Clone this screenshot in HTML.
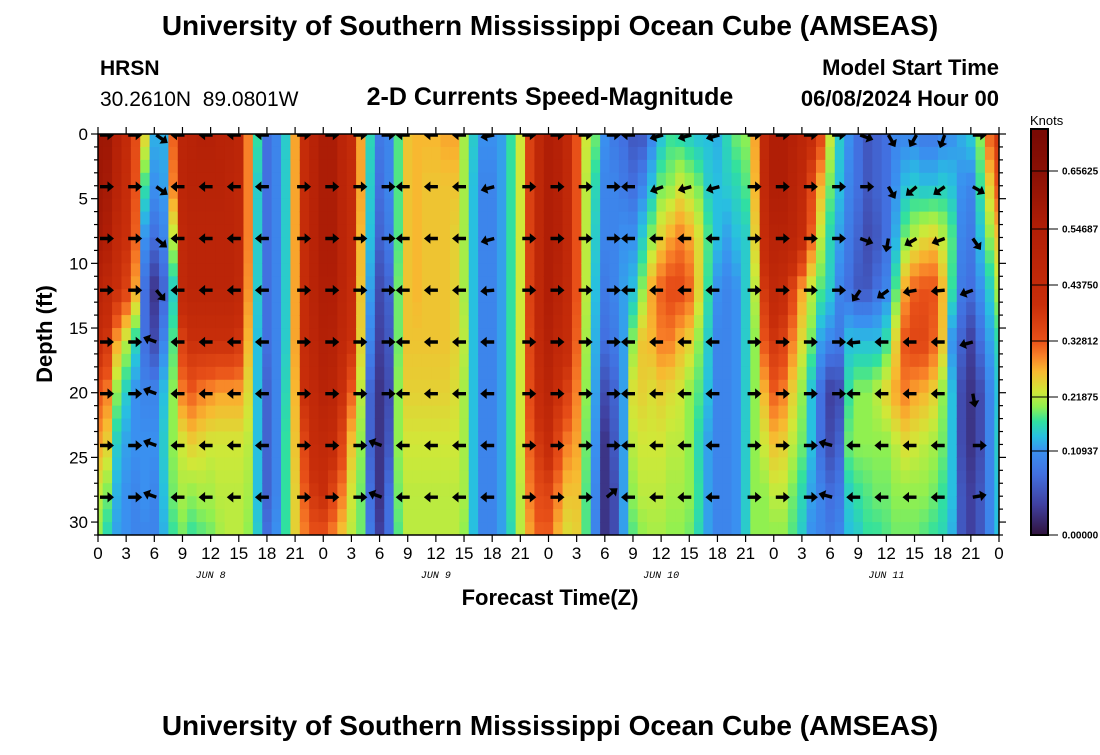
<!DOCTYPE html>
<html><head><meta charset="utf-8"><style>
body{margin:0;background:#fff;}
svg text{font-family:"Liberation Sans",sans-serif;}
</style></head><body>
<svg id="chart" width="1100" height="750" xmlns="http://www.w3.org/2000/svg">
<rect width="1100" height="750" fill="#fff"/>
<text x="550" y="35" text-anchor="middle" font-size="28" font-weight="bold">University of Southern Mississippi Ocean Cube (AMSEAS)</text>
<text x="100" y="75" font-size="21" font-weight="bold">HRSN</text>
<text x="100" y="106" font-size="21" style="white-space:pre" xml:space="preserve">30.2610N  89.0801W</text>
<text x="550" y="105" text-anchor="middle" font-size="25" font-weight="bold">2-D Currents Speed-Magnitude</text>
<text x="999" y="75" text-anchor="end" font-size="22" font-weight="bold">Model Start Time</text>
<text x="999" y="106" text-anchor="end" font-size="22" font-weight="bold">06/08/2024 Hour 00</text>
<defs><clipPath id="pc"><rect x="98" y="134" width="901" height="401"/></clipPath></defs>
<g id="heat" clip-path="url(#pc)"></g>
<g id="arrows" clip-path="url(#pc)"></g>
<g id="axes"></g>
<text transform="translate(52,334) rotate(-90)" text-anchor="middle" font-size="22" font-weight="bold">Depth (ft)</text>
<text x="550" y="605" text-anchor="middle" font-size="22" font-weight="bold">Forecast Time(Z)</text>
<text x="1030" y="125" font-size="13">Knots</text>
<g id="cbar"></g>
<text x="550" y="735" text-anchor="middle" font-size="28" font-weight="bold">University of Southern Mississippi Ocean Cube (AMSEAS)</text>
</svg>
<script>
const depths = [0,4,8,12,16,20,24,28,31];
const speedByHour = [
[0.60,0.60,0.58,0.50,0.42,0.33,0.28,0.22,0.20],
[0.60,0.58,0.55,0.45,0.38,0.30,0.25,0.19,0.16],
[0.52,0.50,0.45,0.40,0.28,0.20,0.15,0.13,0.12],
[0.44,0.42,0.40,0.36,0.22,0.15,0.12,0.11,0.11],
[0.34,0.33,0.32,0.28,0.16,0.11,0.11,0.10,0.10],
[0.25,0.17,0.11,0.08,0.08,0.10,0.11,0.11,0.10],
[0.13,0.11,0.08,0.03,0.05,0.10,0.11,0.10,0.10],
[0.13,0.12,0.10,0.07,0.10,0.14,0.15,0.14,0.13],
[0.32,0.30,0.22,0.15,0.18,0.20,0.20,0.19,0.17],
[0.48,0.48,0.45,0.45,0.36,0.30,0.23,0.21,0.19],
[0.50,0.50,0.48,0.48,0.40,0.32,0.25,0.20,0.17],
[0.52,0.50,0.48,0.48,0.40,0.30,0.24,0.21,0.18],
[0.52,0.50,0.48,0.48,0.40,0.29,0.23,0.21,0.19],
[0.50,0.50,0.48,0.48,0.40,0.28,0.23,0.22,0.21],
[0.50,0.48,0.48,0.48,0.40,0.28,0.23,0.22,0.22],
[0.48,0.46,0.46,0.45,0.38,0.28,0.23,0.22,0.22],
[0.30,0.30,0.30,0.29,0.27,0.24,0.22,0.21,0.20],
[0.17,0.15,0.15,0.15,0.14,0.14,0.14,0.14,0.15],
[0.08,0.08,0.08,0.08,0.08,0.07,0.07,0.07,0.08],
[0.10,0.10,0.10,0.10,0.10,0.10,0.10,0.10,0.11],
[0.15,0.15,0.15,0.15,0.15,0.16,0.17,0.17,0.17],
[0.28,0.28,0.28,0.28,0.28,0.27,0.26,0.25,0.25],
[0.42,0.42,0.42,0.42,0.42,0.40,0.35,0.32,0.30],
[0.50,0.50,0.50,0.50,0.48,0.45,0.42,0.38,0.33],
[0.56,0.56,0.56,0.55,0.53,0.50,0.44,0.40,0.33],
[0.56,0.56,0.56,0.55,0.52,0.48,0.42,0.35,0.30],
[0.48,0.48,0.48,0.48,0.45,0.40,0.35,0.30,0.26],
[0.43,0.43,0.43,0.42,0.40,0.32,0.26,0.23,0.22],
[0.28,0.28,0.27,0.26,0.25,0.22,0.20,0.19,0.19],
[0.16,0.15,0.14,0.12,0.10,0.07,0.07,0.08,0.09],
[0.09,0.08,0.07,0.05,0.04,0.03,0.03,0.03,0.04],
[0.10,0.10,0.09,0.07,0.06,0.05,0.06,0.08,0.08],
[0.18,0.18,0.18,0.19,0.19,0.20,0.20,0.19,0.18],
[0.26,0.26,0.26,0.26,0.26,0.25,0.23,0.22,0.22],
[0.27,0.27,0.27,0.27,0.26,0.25,0.23,0.22,0.22],
[0.27,0.26,0.26,0.26,0.26,0.25,0.23,0.22,0.22],
[0.27,0.26,0.26,0.26,0.26,0.25,0.23,0.22,0.22],
[0.28,0.26,0.26,0.26,0.26,0.25,0.23,0.22,0.22],
[0.28,0.26,0.25,0.25,0.25,0.24,0.23,0.22,0.22],
[0.21,0.21,0.21,0.21,0.22,0.21,0.21,0.21,0.20],
[0.15,0.14,0.14,0.14,0.14,0.14,0.14,0.14,0.14],
[0.11,0.10,0.10,0.10,0.10,0.10,0.10,0.10,0.10],
[0.11,0.10,0.10,0.10,0.10,0.10,0.10,0.10,0.10],
[0.12,0.12,0.12,0.12,0.12,0.12,0.12,0.12,0.12],
[0.17,0.17,0.17,0.17,0.17,0.17,0.17,0.17,0.16],
[0.23,0.23,0.23,0.23,0.23,0.23,0.23,0.22,0.22],
[0.36,0.36,0.36,0.36,0.35,0.34,0.32,0.30,0.28],
[0.46,0.46,0.46,0.46,0.45,0.42,0.38,0.34,0.32],
[0.55,0.55,0.55,0.55,0.52,0.48,0.42,0.35,0.32],
[0.52,0.52,0.52,0.50,0.46,0.40,0.35,0.30,0.27],
[0.45,0.45,0.45,0.44,0.42,0.36,0.30,0.26,0.24],
[0.33,0.33,0.33,0.33,0.32,0.30,0.28,0.26,0.25],
[0.23,0.22,0.22,0.22,0.21,0.20,0.19,0.18,0.18],
[0.19,0.16,0.15,0.14,0.13,0.12,0.11,0.10,0.10],
[0.11,0.10,0.10,0.09,0.08,0.05,0.03,0.03,0.03],
[0.09,0.10,0.10,0.10,0.09,0.07,0.06,0.05,0.05],
[0.08,0.09,0.11,0.12,0.12,0.12,0.12,0.12,0.12],
[0.06,0.08,0.11,0.14,0.20,0.24,0.22,0.20,0.18],
[0.06,0.10,0.15,0.20,0.26,0.25,0.23,0.22,0.20],
[0.10,0.14,0.20,0.28,0.27,0.24,0.23,0.22,0.21],
[0.14,0.19,0.25,0.32,0.30,0.25,0.23,0.22,0.21],
[0.17,0.20,0.28,0.34,0.30,0.24,0.22,0.21,0.20],
[0.16,0.23,0.30,0.34,0.27,0.23,0.22,0.21,0.20],
[0.15,0.21,0.28,0.32,0.25,0.20,0.20,0.20,0.19],
[0.14,0.19,0.24,0.25,0.20,0.18,0.16,0.17,0.16],
[0.14,0.15,0.18,0.17,0.15,0.14,0.12,0.12,0.12],
[0.13,0.14,0.14,0.11,0.10,0.10,0.10,0.10,0.10],
[0.16,0.15,0.12,0.10,0.10,0.10,0.10,0.10,0.10],
[0.19,0.16,0.14,0.11,0.11,0.11,0.11,0.11,0.11],
[0.20,0.18,0.15,0.15,0.15,0.15,0.15,0.15,0.15],
[0.28,0.27,0.25,0.22,0.20,0.20,0.20,0.20,0.20],
[0.45,0.45,0.42,0.38,0.33,0.27,0.23,0.20,0.20],
[0.55,0.55,0.50,0.45,0.38,0.32,0.26,0.22,0.20],
[0.55,0.55,0.50,0.42,0.36,0.30,0.25,0.22,0.20],
[0.52,0.50,0.48,0.35,0.30,0.25,0.22,0.19,0.18],
[0.48,0.45,0.42,0.28,0.24,0.20,0.19,0.16,0.15],
[0.42,0.35,0.32,0.22,0.19,0.14,0.14,0.12,0.11],
[0.35,0.27,0.22,0.18,0.12,0.08,0.08,0.10,0.10],
[0.23,0.19,0.16,0.15,0.10,0.04,0.05,0.08,0.09],
[0.15,0.14,0.12,0.10,0.09,0.05,0.07,0.09,0.10],
[0.11,0.10,0.09,0.08,0.14,0.17,0.19,0.15,0.14],
[0.08,0.08,0.07,0.06,0.14,0.20,0.20,0.17,0.15],
[0.06,0.06,0.05,0.06,0.14,0.20,0.20,0.18,0.17],
[0.07,0.07,0.06,0.08,0.14,0.22,0.20,0.19,0.17],
[0.08,0.08,0.08,0.10,0.17,0.25,0.20,0.19,0.18],
[0.10,0.11,0.13,0.18,0.25,0.28,0.22,0.20,0.19],
[0.10,0.14,0.19,0.28,0.33,0.30,0.24,0.20,0.19],
[0.10,0.15,0.22,0.32,0.35,0.28,0.23,0.20,0.19],
[0.09,0.14,0.24,0.33,0.35,0.27,0.22,0.20,0.18],
[0.09,0.14,0.25,0.33,0.32,0.25,0.21,0.19,0.17],
[0.10,0.15,0.22,0.27,0.26,0.20,0.19,0.17,0.16],
[0.11,0.14,0.18,0.17,0.11,0.14,0.14,0.14,0.13],
[0.13,0.11,0.10,0.09,0.07,0.05,0.05,0.06,0.06],
[0.15,0.10,0.09,0.08,0.04,0.03,0.03,0.04,0.04],
[0.20,0.17,0.14,0.11,0.08,0.05,0.05,0.06,0.06],
[0.32,0.25,0.20,0.15,0.12,0.10,0.10,0.10,0.10],
[0.38,0.33,0.26,0.21,0.16,0.14,0.15,0.14,0.14]
];
const arrowDepths = [0,4,8,12,16,20,24,28];
const arrowHours = [0,3,6,9,12,15,18,21,24,27,30,33,36,39,42,45,48,51,54,57,60,63,66,69,72,75,78,81,84,87,90,93];
const arrowAngles = [
[0,0,0,0,0,0,0,0],[0,0,0,0,0,0,0,0],[35,35,40,50,200,200,200,200],
[180,180,180,180,180,180,180,180],[180,180,180,180,180,180,180,180],[180,180,180,180,180,180,180,180],[180,180,180,180,180,180,180,180],
[0,0,0,0,0,0,0,0],[0,0,0,0,0,0,0,0],[0,0,0,0,0,0,0,0],[0,0,0,0,0,0,200,200],
[180,180,180,180,180,180,180,180],[180,180,180,180,180,180,180,180],[180,180,180,180,180,180,180,180],[170,165,165,175,180,180,180,180],
[0,0,0,0,0,0,0,0],[0,0,0,0,0,0,0,0],[0,0,0,0,0,0,0,0],[0,0,0,0,0,0,0,320],
[180,180,180,180,180,180,180,180],[165,160,180,180,180,180,180,180],[165,165,180,180,180,180,180,180],[165,165,180,180,180,180,180,180],
[0,0,0,0,0,0,0,0],[0,0,0,0,0,0,0,0],[0,0,0,0,0,0,0,0],[0,0,0,0,0,0,195,195],
[20,0,20,125,175,180,180,180],[60,60,100,145,180,180,180,180],[120,140,150,170,180,180,180,180],[110,145,160,175,180,180,180,180],
[0,30,55,160,165,80,0,350]
];
const yTicks = [0,5,10,15,20,25,30];
const xTickLabels = ["0","3","6","9","12","15","18","21","0","3","6","9","12","15","18","21","0","3","6","9","12","15","18","21","0","3","6","9","12","15","18","21","0"];
const dayLabels = ["JUN 8","JUN 9","JUN 10","JUN 11"];
const cbarLabels = ["0.65625","0.54687","0.43750","0.32812","0.21875","0.10937","0.00000"];
const cbarLabelY = [171,229,285,341,397,451,535];

const X0=98,X1=999,Y0=134,Y1=535,TMAX=96,DMAX=31;
const xs=t=>X0+(X1-X0)*t/TMAX;
const ys=d=>Y0+(Y1-Y0)*d/DMAX;
const NS='http://www.w3.org/2000/svg';
function mk(tag,attrs,parent){const e=document.createElementNS(NS,tag);for(const k in attrs)e.setAttribute(k,attrs[k]);parent.appendChild(e);return e;}
const stops=[[0,[48,18,59]],[0.04,[64,64,160]],[0.08,[66,112,224]],[0.11,[58,144,240]],[0.14,[40,192,224]],[0.17,[48,224,160]],[0.20,[144,240,80]],[0.23,[208,232,56]],[0.27,[248,184,48]],[0.30,[248,128,40]],[0.33,[232,80,24]],[0.40,[200,46,10]],[0.55,[176,30,6]],[0.70,[122,10,4]]];
function color(v){v=Math.max(0,Math.min(0.7,v));for(let i=1;i<stops.length;i++){if(v<=stops[i][0]){const a=stops[i-1],b=stops[i],f=(v-a[0])/(b[0]-a[0]);return 'rgb('+a[1].map((c,j)=>Math.round(c+(b[1][j]-c)*f)).join(',')+')';}}return 'rgb(122,10,4)';}
function profileAt(col,d){for(let i=1;i<depths.length;i++){if(d<=depths[i]){const f=(d-depths[i-1])/(depths[i]-depths[i-1]);return col[i-1]+(col[i]-col[i-1])*f;}}return col[col.length-1];}
const heat=document.getElementById('heat');
speedByHour.forEach((col,t)=>{
  for(let d=0;d<DMAX;d++){
    const v=profileAt(col,d+0.5);
    const r=mk('rect',{x:xs(t-0.5).toFixed(2),y:ys(d).toFixed(2),width:(xs(1)-xs(0)+0.6).toFixed(2),height:(ys(1)-ys(0)+0.6).toFixed(2),fill:color(v)},heat);
    
    
  }
});
const arrows=document.getElementById('arrows');
arrowHours.forEach((h,i)=>{
  arrowDepths.forEach((d,j)=>{
    const a=arrowAngles[i][j];
    const bx=xs(h)+2,by=ys(d)+1;
    const g=mk('g',{transform:'translate('+bx.toFixed(1)+','+by.toFixed(1)+') rotate('+a+')'},arrows);
    
    
    mk('path',{d:'M0,-1.7 L7.5,-1.7 L7.5,-5.3 L14,0 L7.5,5.3 L7.5,1.7 L0,1.7 Z',fill:'#000'},g);
  });
});
const ax=document.getElementById('axes');
mk('rect',{x:X0,y:Y0,width:X1-X0,height:Y1-Y0,fill:'none',stroke:'#000','stroke-width':1.5},ax);
for(let d=0;d<=DMAX;d++){
  const maj=d%5===0,L=maj?7:4;
  mk('line',{x1:X0,x2:X0-L,y1:ys(d),y2:ys(d),stroke:'#000','stroke-width':1.2},ax);
  mk('line',{x1:X1,x2:X1+L,y1:ys(d),y2:ys(d),stroke:'#000','stroke-width':1.2},ax);
}
yTicks.forEach(v=>{const t=mk('text',{x:88,y:ys(v)+6,'text-anchor':'end','font-size':17},ax);t.textContent=v;

});
xTickLabels.forEach((lab,i)=>{const h=i*3;
  mk('line',{x1:xs(h),x2:xs(h),y1:Y1,y2:Y1+7,stroke:'#000','stroke-width':1.2},ax);
  mk('line',{x1:xs(h),x2:xs(h),y1:Y0,y2:Y0-7,stroke:'#000','stroke-width':1.2},ax);
  const t=mk('text',{x:xs(h),y:559,'text-anchor':'middle','font-size':17},ax);t.textContent=lab;
  
  });
dayLabels.forEach((lab,i)=>{const t=mk('text',{x:xs(i*24+12),y:578,'text-anchor':'middle','font-size':10,'font-style':'italic',style:'font-family:"Liberation Mono",monospace'},ax);t.textContent=lab;

});
const cb=document.getElementById('cbar');
const cbY0=129,cbY1=535;
for(let y=cbY0;y<cbY1;y++){
  const vals=[0.65625,0.546875,0.4375,0.328125,0.21875,0.109375,0];
  let v;
  if(y<=171) v=0.65625+(171-y)*(0.05/42);
  else {for(let i=1;i<vals.length;i++){if(y<=cbarLabelY[i]){const f=(y-cbarLabelY[i-1])/(cbarLabelY[i]-cbarLabelY[i-1]);v=vals[i-1]+(vals[i]-vals[i-1])*f;break;}}}
  mk('rect',{x:1031,y:y,width:17,height:1.2,fill:color(v)},cb);
}
mk('rect',{x:1031,y:cbY0,width:17,height:cbY1-cbY0,fill:'none',stroke:'#000','stroke-width':2},cb);
cbarLabels.forEach((lab,i)=>{mk('line',{x1:1031,x2:1058,y1:cbarLabelY[i],y2:cbarLabelY[i],stroke:'#000','stroke-width':1},cb);
  const t=mk('text',{x:1062,y:cbarLabelY[i]+3.5,'font-size':10,'font-weight':'bold'},cb);t.textContent=lab;
  
  });
</script>
</body></html>
